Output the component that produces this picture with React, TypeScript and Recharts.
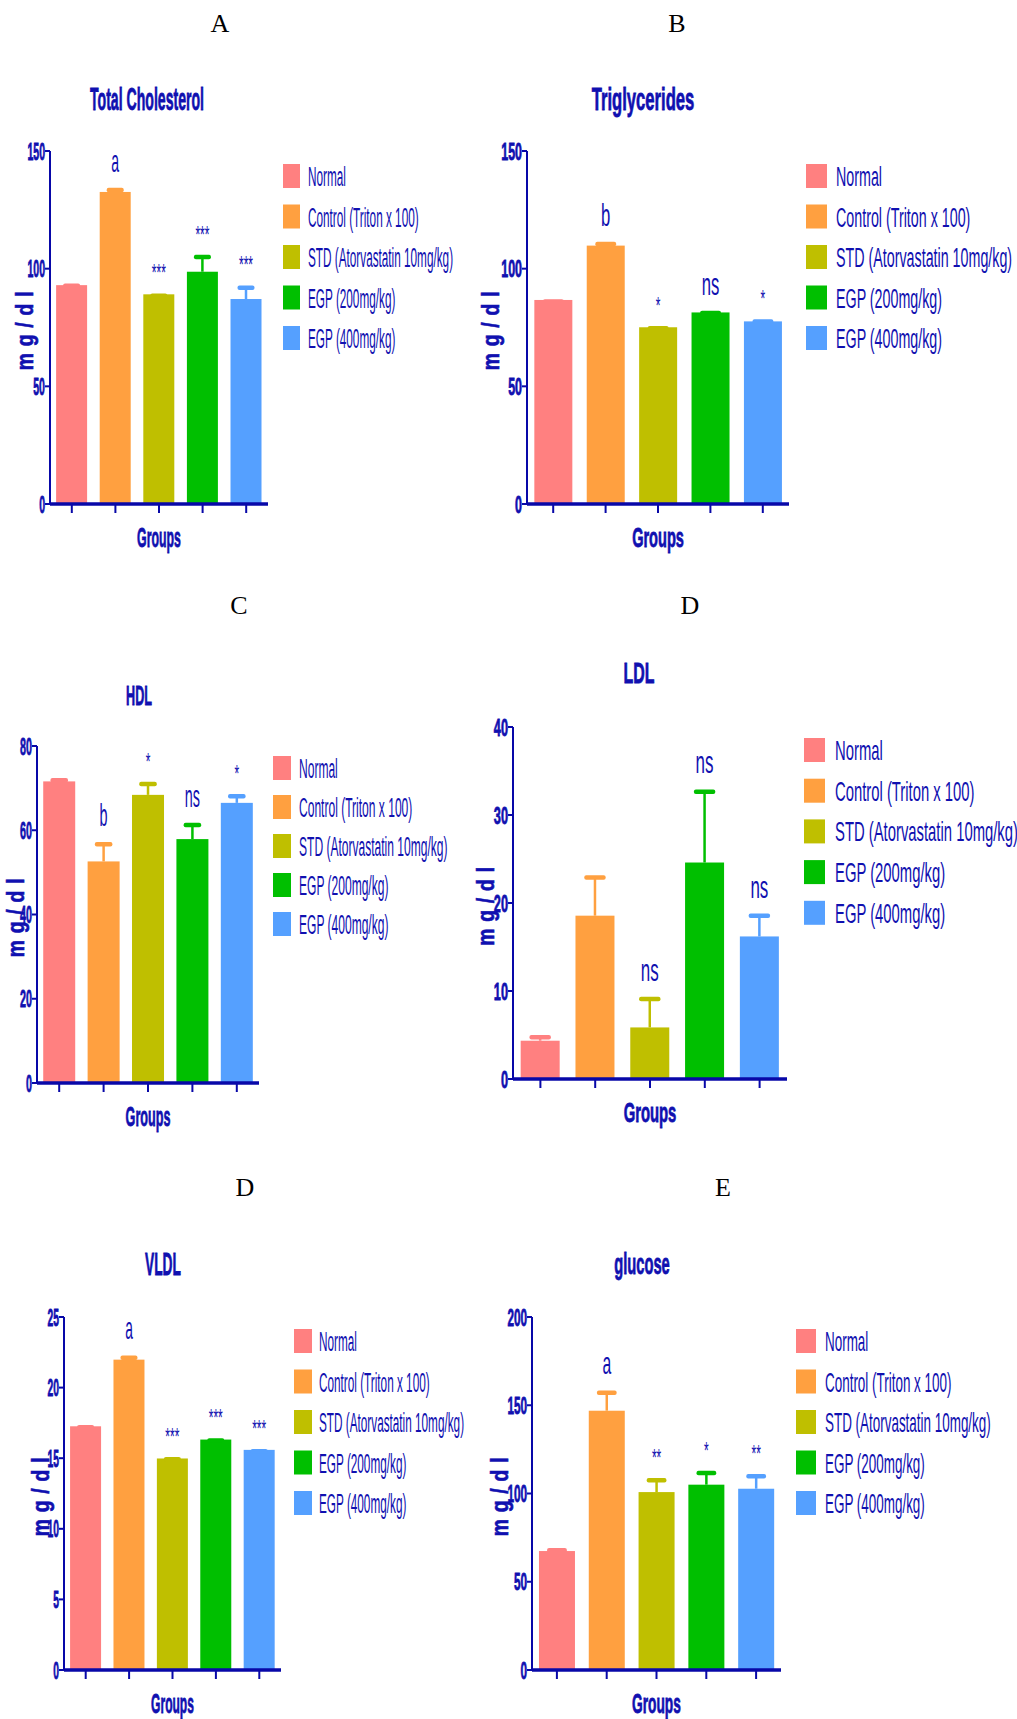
import React from "react";
import { BarChart, Bar, XAxis, YAxis } from "recharts";

const GROUPS = [
  "Normal",
  "Control (Triton x 100)",
  "STD (Atorvastatin 10mg/kg)",
  "EGP (200mg/kg)",
  "EGP (400mg/kg)",
];
const COLORS = ["#FF8080", "#FFA040", "#BFBF00", "#00BF00", "#55A0FF"];

const TC_MEAN = [93.0, 132.6, 89.1, 98.7, 87.1];
const TC_SEM = [0.7, 1.8, 0.4, 7.2, 5.8];
const TC_SIG = ["", "a", "***", "***", "***"];
const TC_TICKS = [0, 50, 100, 150];

const TG_MEAN = [86.7, 109.8, 75.1, 81.4, 77.6];
const TG_SEM = [0.3, 1.6, 0.5, 0.7, 0.9];
const TG_SIG = ["", "b", "*", "ns", "*"];
const TG_TICKS = [0, 50, 100, 150];

const HDL_MEAN = [71.6, 52.6, 68.4, 57.9, 66.5];
const HDL_SEM = [0.8, 4.6, 3.1, 3.9, 2.1];
const HDL_SIG = ["", "b", "*", "ns", "*"];
const HDL_TICKS = [0, 20, 40, 60, 80];

const LDL_MEAN = [4.35, 18.56, 5.86, 24.6, 16.2];
const LDL_SEM = [0.64, 4.6, 3.5, 8.3, 2.6];
const LDL_SIG = ["", "", "ns", "ns", "ns"];
const LDL_TICKS = [0, 10, 20, 30, 40];

const VLDL_MEAN = [17.26, 21.98, 14.98, 16.32, 15.59];
const VLDL_SEM = [0.1, 0.3, 0.1, 0.1, 0.07];
const VLDL_SIG = ["", "a", "***", "***", "***"];
const VLDL_TICKS = [0, 5, 10, 15, 20, 25];

const GLU_MEAN = [67.4, 146.9, 100.8, 105.0, 102.7];
const GLU_SEM = [1.7, 11.5, 8.0, 7.9, 8.3];
const GLU_SIG = ["", "a", "**", "*", "**"];
const GLU_TICKS = [0, 50, 100, 150, 200];

const NAVY = "#1010B0";
const AXIS = "#0808A8";
const FONT = "'Liberation Sans', Arial, Helvetica, sans-serif";

// layout of each panel (page pixels)
const PANELS = [
  { letter: "A", letterX: 220, letterY: 32, title: "Total Cholesterol", titleX: 147, titleY: 110, titleSize: 32,
    x: 50, top: 151, bottom: 504, right: 268, sx: 0.44, legSx: 0.42, legX: 283, legW: 17, textX: 308, rowY: 176, rowGap: 40.5,
    yLabelX: 27, mean: TC_MEAN, sem: TC_SEM, sig: TC_SIG, ticks: TC_TICKS },
  { letter: "B", letterX: 677, letterY: 32, title: "Triglycerides", titleX: 643, titleY: 110, titleSize: 32,
    x: 527, top: 151, bottom: 504, right: 789, sx: 0.52, legSx: 0.51, legX: 806, legW: 21, textX: 836, rowY: 176, rowGap: 40.5,
    yLabelX: 493, mean: TG_MEAN, sem: TG_SEM, sig: TG_SIG, ticks: TG_TICKS },
  { letter: "C", letterX: 239, letterY: 614, title: "HDL", titleX: 139, titleY: 705, titleSize: 28,
    x: 37, top: 746, bottom: 1083, right: 259, sx: 0.45, legSx: 0.43, legX: 273, legW: 18, textX: 299, rowY: 768, rowGap: 39,
    yLabelX: 18, mean: HDL_MEAN, sem: HDL_SEM, sig: HDL_SIG, ticks: HDL_TICKS },
  { letter: "D", letterX: 690, letterY: 614, title: "LDL", titleX: 639, titleY: 683, titleSize: 30,
    x: 513, top: 727, bottom: 1079, right: 787, sx: 0.53, legSx: 0.53, legX: 804, legW: 21, textX: 835, rowY: 750, rowGap: 40.7,
    yLabelX: 488, mean: LDL_MEAN, sem: LDL_SEM, sig: LDL_SIG, ticks: LDL_TICKS },
  { letter: "D", letterX: 245, letterY: 1196, title: "VLDL", titleX: 163, titleY: 1275, titleSize: 32,
    x: 64, top: 1317, bottom: 1670, right: 281, sx: 0.43, legSx: 0.42, legX: 294, legW: 18, textX: 319, rowY: 1341, rowGap: 40.5,
    yLabelX: 43, mean: VLDL_MEAN, sem: VLDL_SEM, sig: VLDL_SIG, ticks: VLDL_TICKS },
  { letter: "E", letterX: 723, letterY: 1196, title: "glucose", titleX: 642, titleY: 1274, titleSize: 30,
    x: 532, top: 1317, bottom: 1670, right: 781, sx: 0.49, legSx: 0.48, legX: 796, legW: 20, textX: 825, rowY: 1341, rowGap: 40.5,
    yLabelX: 502, mean: GLU_MEAN, sem: GLU_SEM, sig: GLU_SIG, ticks: GLU_TICKS },
];

function Sq({ x, y, sx = 1, size, bold = false, anchor = "start", children, fill = NAVY, family = FONT }: any) {
  return (
    <text
      transform={`translate(${x},${y}) scale(${sx},1)`}
      textAnchor={anchor}
      fontSize={size}
      fontWeight={bold ? "bold" : "normal"}
      fontFamily={family}
      fill={fill}
      stroke={bold ? fill : "none"}
      strokeWidth={bold ? 0.8 : 0}
    >
      {children}
    </text>
  );
}

function ErrBar(props: any) {
  const { x, y, width, height, payload, index, sx } = props;
  const fill = COLORS[index];
  const perUnit = height / payload.mean;
  const capY = y - payload.sem * perUnit;
  const cx = x + width / 2;
  const capW = width * 0.55;
  const sig = payload.sig;
  const star = sig.includes("*");
  return (
    <g>
      <rect x={x} y={y} width={width} height={height} fill={fill} />
      <line x1={cx} x2={cx} y1={y} y2={capY + 2} stroke={fill} strokeWidth={2.5} />
      <rect x={cx - capW / 2} y={capY} width={capW} height={4.5} rx={2} fill={fill} />
      {sig && (
        <Sq x={cx} y={capY - (star ? 12 : 16)} sx={star ? 0.5 : sx} size={star ? 24 : 32} anchor="middle">
          {sig}
        </Sq>
      )}
    </g>
  );
}

function YTick(props: any) {
  const { x, y, payload, sx } = props;
  return (
    <Sq x={x} y={y + 8.5} sx={sx} size={24} bold anchor="end">
      {payload.value}
    </Sq>
  );
}

function Panel({ p }: any) {
  const data = GROUPS.map((g, i) => ({ name: g, mean: p.mean[i], sem: p.sem[i], sig: p.sig[i] }));
  const w = p.right - p.x + 55;
  const h = p.bottom - p.top + 50;
  const yMax = p.ticks[p.ticks.length - 1];
  return (
    <div style={{ position: "absolute", left: p.x - 45, top: p.top - 20 }}>
      <BarChart width={w} height={h} data={data} margin={{ top: 20, left: 5, right: 10, bottom: 10 }} barCategoryGap="14%">
        <XAxis
          dataKey="name"
          height={20}
          axisLine={{ stroke: AXIS, strokeWidth: 3.5 }}
          tickLine={{ stroke: AXIS, strokeWidth: 2 }}
          tickSize={9}
          tick={() => <g />}
          interval={0}
        />
        <YAxis
          width={40}
          domain={[0, yMax]}
          ticks={p.ticks}
          axisLine={{ stroke: AXIS, strokeWidth: 2 }}
          tickLine={{ stroke: AXIS, strokeWidth: 2 }}
          tickSize={5}
          tickMargin={0}
          tick={(t: any) => <YTick {...t} sx={p.sx} />}
        />
        <Bar dataKey="mean" isAnimationActive={false} shape={(b: any) => <ErrBar {...b} sx={p.sx} />} />
      </BarChart>
    </div>
  );
}

function Overlay() {
  return (
    <svg width={1017} height={1719} style={{ position: "absolute", left: 0, top: 0, pointerEvents: "none" }}>
      {PANELS.map((p, k) => {
        const midY = (p.top + p.bottom) / 2 + 3;
        return (
          <g key={k}>
            <text x={p.letterX} y={p.letterY} textAnchor="middle" fontSize={26} fontFamily="'Liberation Serif', 'Times New Roman', serif" fill="#000">
              {p.letter}
            </text>
            <Sq x={p.titleX} y={p.titleY} sx={p.sx} size={p.titleSize} bold anchor="middle">
              {p.title}
            </Sq>
            <text
              transform={`translate(${p.yLabelX + 6},${midY}) rotate(-90) scale(0.8,1)`}
              textAnchor="middle"
              fontSize={24}
              fontWeight="bold"
              fontFamily={FONT}
              fill={NAVY}
              stroke={NAVY}
              strokeWidth={0.6}
              letterSpacing={1}
            >
              m g / d l
            </text>
            <Sq x={(p.x + p.right) / 2} y={p.bottom + 43} sx={p.sx} size={28} bold anchor="middle">
              Groups
            </Sq>
            {GROUPS.map((g, i) => {
              const cy = p.rowY + i * p.rowGap;
              return (
                <g key={g}>
                  <rect x={p.legX} y={cy - 12} width={p.legW} height={24} fill={COLORS[i]} />
                  <Sq x={p.textX} y={cy + 10} sx={p.legSx} size={28}>
                    {g}
                  </Sq>
                </g>
              );
            })}
          </g>
        );
      })}
    </svg>
  );
}

export default function App() {
  return (
    <div style={{ position: "absolute", left: 0, top: 0, width: 1017, height: 1719, background: "#fff" }}>
      {PANELS.map((p, k) => (
        <Panel key={k} p={p} />
      ))}
      <Overlay />
    </div>
  );
}
